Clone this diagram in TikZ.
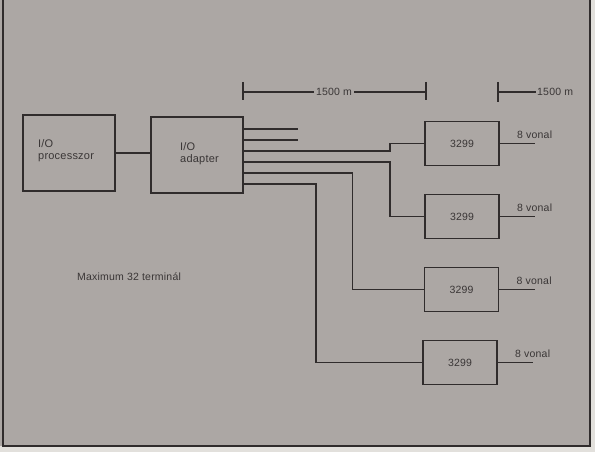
\documentclass[tikz,border=0pt]{standalone}
\usepackage{fontspec}
\setmainfont{Liberation Sans}[LetterSpace=2]
\usetikzlibrary{calc}
\definecolor{paper}{RGB}{172,167,164}
\definecolor{outer}{RGB}{226,224,220}
\definecolor{ink}{RGB}{48,44,44}
\definecolor{txt}{RGB}{58,54,54}
\tikzset{
  bigbox/.style={draw=ink, line width=2.6pt, minimum width=92pt, minimum height=76pt, inner sep=0pt, outer sep=0pt},
  termbox/.style={draw=ink, line width=1.8pt, minimum width=74pt, minimum height=44pt, inner sep=0pt, outer sep=0pt,
                  font=\fontsize{10.5}{12}\selectfont, text=txt},
  wire/.style={draw=ink, line width=1.5pt},
  lbl/.style={font=\fontsize{10.5}{12}\selectfont, text=txt, inner sep=0pt},
  boxtext/.style={font=\fontsize{11}{12}\selectfont, text=txt, align=left, inner sep=0pt, anchor=north west}
}
\begin{document}
\begin{tikzpicture}[x=1pt,y=-1pt]
\useasboundingbox (0,0) rectangle (595,452);
% paper
\fill[outer] (0,0) rectangle (595,452);
\fill[paper] (0,0) rectangle (590,446);
\draw[ink, line width=1.6pt] (3,0) -- (3,446) -- (590,446) -- (590,0);

% main boxes
\node[bigbox] (proc) at (69,153) {};
\node[boxtext] (proctxt) at (38,139) {I/O\\processzor};
\node[bigbox] (adap) at (197,155) {};
\node[boxtext] (adaptxt) at (180,142) {I/O\\adapter};
\draw[wire] (proc.east) -- (proc.east -| adap.west);

% terminal controllers
\node[termbox] (t1) at (462,143.5) {3299};
\node[termbox] (t2) at (462,216.5) {3299};
\node[termbox] (t3) at (461.5,289.5) {3299};
\node[termbox] (t4) at (460,362.5) {3299};

% adapter outputs
\coordinate (o1) at ($(adap.north east)+(0,12)$);
\coordinate (o2) at ($(adap.north east)+(0,23)$);
\coordinate (o3) at ($(adap.north east)+(0,34)$);
\coordinate (o4) at ($(adap.north east)+(0,45)$);
\coordinate (o5) at ($(adap.north east)+(0,56)$);
\coordinate (o6) at ($(adap.north east)+(0,67)$);
\coordinate (f1) at ($(o1)+(55,0)$);
\coordinate (f2) at ($(o2)+(55,0)$);
\draw[wire] (o1) -- (f1);
\draw[wire] (o2) -- (f2);
\draw[wire] (o3) -| ([xshift=-35pt]t1.west) -- (t1.west);
\draw[wire] (o4) -| ([xshift=-35pt]t2.west) -- (t2.west);
\draw[wire] (o5) -| ([xshift=-72pt]t3.west) -- (t3.west);
\draw[wire] (o6) -| ([xshift=-107pt]t4.west) -- (t4.west);

% terminal lines
\foreach \i in {1,2,3,4}{
  \draw[wire] (t\i.east) -- ++(36,0) coordinate (e\i);
  \node[lbl, anchor=base west] (v\i) at ($(t\i.east)+(18,-5)$) {8 vonal};
}

% dimension lines
\coordinate (d1a) at (243,82);
\coordinate (d1b) at (243,100);
\coordinate (d1m) at (243,92);
\coordinate (d2a) at (426,82);
\coordinate (d2b) at (426,100);
\coordinate (d2m) at (426,92);
\node[lbl] (dim1) at (334,92) {1500 m};
\draw[wire] (d1a) -- (d1b);
\draw[wire] (d2a) -- (d2b);
\draw[wire] (d1m) -- ([xshift=-2pt]dim1.west);
\draw[wire] ([xshift=2pt]dim1.east) -- (d2m);

\coordinate (d3a) at (498,82);
\coordinate (d3b) at (498,102);
\coordinate (d3m) at (498,92);
\node[lbl, anchor=west] (dim2) at (537,92) {1500 m};
\draw[wire] (d3a) -- (d3b);
\draw[wire] (d3m) -- ([xshift=-1pt]dim2.west);

% note
\node[lbl, anchor=west] (note) at (77,277) {Maximum 32 terminál};
\end{tikzpicture}
\end{document}
